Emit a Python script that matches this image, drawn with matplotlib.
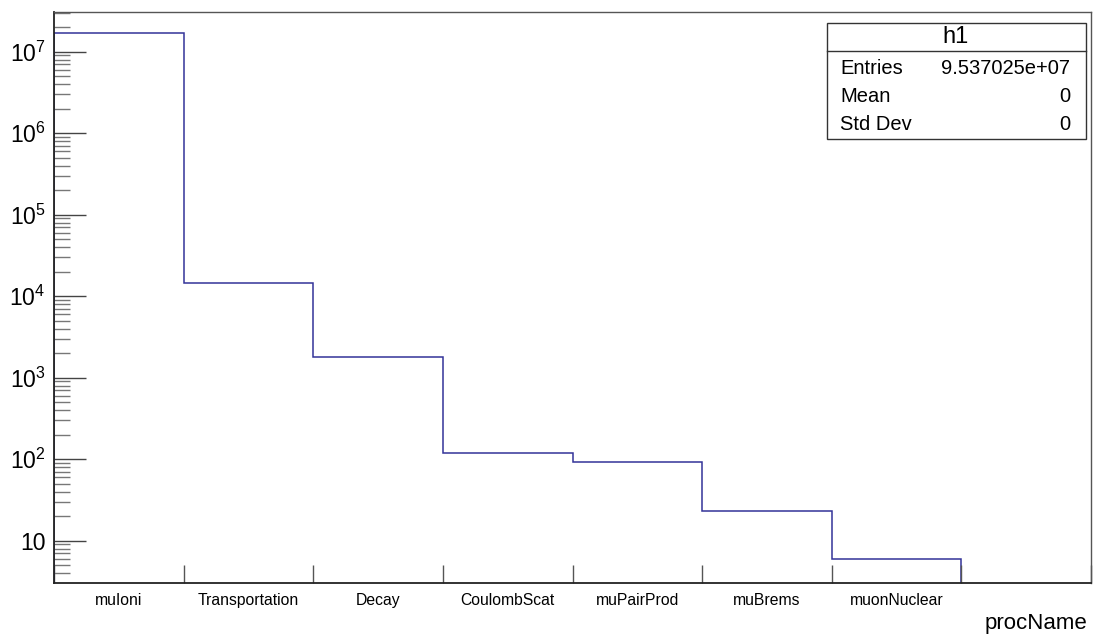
import numpy as np
import matplotlib
matplotlib.use("Agg")
import matplotlib.pyplot as plt
from matplotlib.patches import Rectangle
from matplotlib.ticker import FixedLocator, FuncFormatter, NullFormatter

plt.rcParams['font.family'] = ['Liberation Sans', 'DejaVu Sans']
plt.rcParams['mathtext.fontset'] = 'custom'
plt.rcParams['mathtext.rm'] = 'Liberation Sans'

# histogram h1: counts per process name
proc_names = ["muIoni", "Transportation", "Decay", "CoulombScat",
              "muPairProd", "muBrems", "muonNuclear", ""]
counts = np.array([1.68e7, 1.46e4, 1810, 118, 92, 23, 6, 0])

stats_title = "h1"
stats_labels = ["Entries", "Mean", "Std Dev"]
stats_values = ["9.537025e+07", "0", "0"]

ymin, ymax = 3.03, 3.07e7
decades = np.arange(1, 8)

W, H = 1104, 634
fig = plt.figure(figsize=(W / 100, H / 100), dpi=100)
ax = fig.add_axes([54 / W, 1 - 583 / H, (1091 - 54) / W, (583 - 12) / H])

edges = np.arange(len(counts) + 1)
# empty bins drop to the bottom of the frame like ROOT does
drawn = np.where(counts > 0, counts, ymin * 0.5)
ax.stairs(drawn, edges, color='#333399', lw=1.1, baseline=None)
ax.plot([0, 0], [ymin * 0.5, drawn[0]], color='#333399', lw=1.1)

ax.set_yscale('log')
ax.set_xlim(0, len(counts))
ax.set_ylim(ymin, ymax)

# x axis: ticks at bin edges, labels at bin centres
ax.xaxis.set_major_locator(FixedLocator(edges))
ax.xaxis.set_major_formatter(NullFormatter())
ax.xaxis.set_minor_locator(FixedLocator(edges[:-1] + 0.5))
ax.set_xticklabels(proc_names, minor=True)
ax.tick_params(axis='x', which='major', direction='in', length=13, width=1,
               color='#555555', top=False)
ax.tick_params(axis='x', which='minor', length=0, pad=7, labelsize=11.3)

# y axis: ROOT style log ticks
major = 10.0 ** decades
minor = np.array([m * 10.0 ** e for e in range(0, 8) for m in range(2, 10)])
minor = minor[(minor > ymin) & (minor < ymax)]
ax.yaxis.set_major_locator(FixedLocator(major))
ax.yaxis.set_minor_locator(FixedLocator(minor))
ax.yaxis.set_minor_formatter(NullFormatter())


def log_label(v, pos):
    e = int(round(np.log10(v)))
    if e == 1:
        return "10"
    return r'$\mathregular{10^{%d}}$' % e


ax.yaxis.set_major_formatter(FuncFormatter(log_label))
ax.tick_params(axis='y', which='major', direction='in', length=23, width=1,
               color='#444444', right=False, labelsize=16.5, pad=6)
ax.tick_params(axis='y', which='minor', direction='in', length=11.5, width=1,
               color='#777777', right=False)

for side in ['left', 'bottom']:
    ax.spines[side].set_color('#222222')
    ax.spines[side].set_linewidth(1.3)
for side in ['top', 'right']:
    ax.spines[side].set_color('#555555')
    ax.spines[side].set_linewidth(1)

fig.text(1087 / W, 1 - 629 / H, "procName", ha='right', va='baseline', fontsize=16)

# stats box
px = fig.transFigure


def fx(x):
    return x / W


def fy(y):
    return 1 - y / H


fig.patches.append(Rectangle((fx(827), fy(139)), fx(1086) - fx(827), fy(22.7) - fy(139),
                             transform=px, fill=True, facecolor='white',
                             edgecolor='#333333', lw=1))
fig.lines.append(plt.Line2D([fx(827), fx(1086)], [fy(51), fy(51)], transform=px,
                            color='#333333', lw=1))
fig.text(fx(956), fy(37), stats_title, ha='center', va='center', fontsize=17)
row_y = [68, 96, 124]
for lab, val, y in zip(stats_labels, stats_values, row_y):
    fig.text(fx(840), fy(y), lab, ha='left', va='center', fontsize=14.5)
    fig.text(fx(1070), fy(y), val, ha='right', va='center', fontsize=14.5)

fig.savefig("out.png", dpi=100)
